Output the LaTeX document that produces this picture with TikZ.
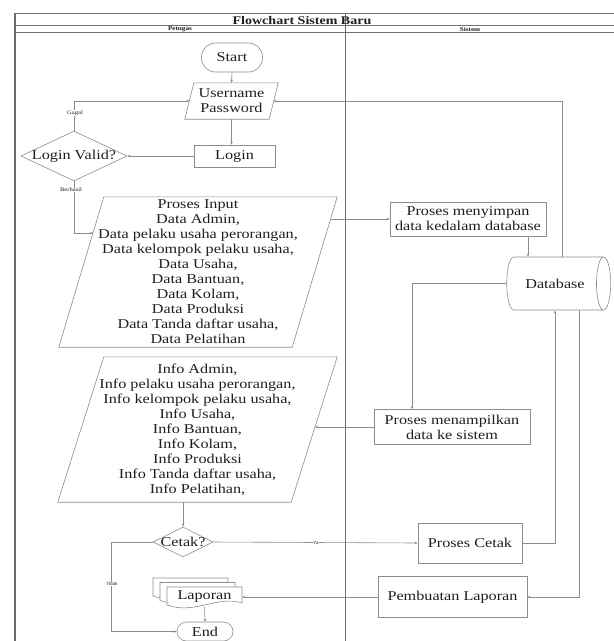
\documentclass[tikz,border=0pt]{standalone}
\usepackage{fontspec}
\setmainfont{Liberation Serif}[FakeStretch=1.2]
\newfontfamily\smallsans{Liberation Sans}
\usetikzlibrary{shapes.geometric,arrows.meta}
\definecolor{lg}{HTML}{8C8C8C}
\definecolor{fr}{HTML}{6E6E6E}
\definecolor{tx}{HTML}{1E1E1E}
\newcommand\lapdoc[2]{\filldraw[fill=white,draw=lg,line width=0.6pt] (#1,#2) -- ({#1+75},#2) -- ({#1+75},{#2+16}) .. controls ({#1+50},{#2+8}) and ({#1+28},{#2+28}) .. (#1,{#2+18}) -- cycle;}
\tikzset{
  shp/.style={draw=lg,line width=0.6pt},
  box/.style={shp,rectangle,inner sep=0pt},
  ghost/.style={rectangle,inner sep=0pt,draw=none},
  arr/.style={draw=lg,line width=0.6pt,-{Stealth[length=3.2pt,width=2.6pt]}},
  lbl/.style={fill=white,inner sep=0.5pt},
  sl/.style={font=\smallsans\fontsize{4.5}{5}\selectfont,fill=white,inner sep=0.5pt},
  frame/.style={draw=fr,line width=0.7pt}
}
\begin{document}
\begin{tikzpicture}[x=1pt,y=-1pt,font=\fontsize{13.5}{15}\selectfont,text=tx]
\useasboundingbox (0,0) rectangle (614,641);
% frame
\draw[frame] (15,13) -- (614,13);
\draw[frame] (15,25) -- (614,25);
\draw[frame] (15,32) -- (614,32);
\draw[frame,line width=1.3pt] (15,13) -- (15,641);
\draw[frame,line width=1pt] (345,13) -- (345,641);
\node[font=\bfseries\fontsize{11.7}{13}\selectfont] (title) at (302,21) {Flowchart Sistem Baru};
\node[font=\bfseries\fontsize{6}{7}\selectfont] (petugas) at (180,29) {Petugas};
\node[font=\bfseries\fontsize{6}{7}\selectfont] (sistem) at (470,29) {Sistem};

% left lane
\node[box,rounded corners=14pt,minimum width=61,minimum height=29] (start) at (232,57.5) {Start};
\node[ghost,minimum width=93,minimum height=36,align=center] (user) at (231.5,101) {Username\\Password};
\draw[shp] ([xshift=9pt]user.north west) -- (user.north east) -- ([xshift=-9pt]user.south east) -- (user.south west) -- cycle;
\coordinate (userL) at (189.5,101);
\coordinate (userR) at (273.5,101);
\node[box,minimum width=81,minimum height=22] (login) at (234.5,156) {Login};
\node[shp,diamond,inner sep=0pt,minimum width=106,minimum height=50] (valid) at (74,156) {\makebox[0pt]{Login Valid?}};

\node[ghost,minimum width=278,minimum height=150,align=center] (inp) at (198,272)
 {Proses Input\\Data Admin,\\Data pelaku usaha perorangan,\\Data kelompok pelaku usaha,\\Data Usaha,\\Data Bantuan,\\Data Kolam,\\Data Produksi\\Data Tanda daftar usaha,\\Data Pelatihan};
\draw[shp] ([xshift=45pt]inp.north west) -- (inp.north east) -- ([xshift=-45pt]inp.south east) -- (inp.south west) -- cycle;
\coordinate (inL) at (93.2,233);
\coordinate (inR) at (330.4,219);

\node[ghost,minimum width=279,minimum height=145,align=center] (out) at (197.5,429.5)
 {Info Admin,\\Info pelaku usaha perorangan,\\Info kelompok pelaku usaha,\\Info Usaha,\\Info Bantuan,\\Info Kolam,\\Info Produksi\\Info Tanda daftar usaha,\\Info Pelatihan,};
\draw[shp] ([xshift=46pt]out.north west) -- (out.north east) -- ([xshift=-46pt]out.south east) -- (out.south west) -- cycle;
\coordinate (outR) at (314.8,427);

\node[shp,diamond,inner sep=0pt,minimum width=60,minimum height=30] (cetak) at (183,542) {\makebox[0pt]{Cetak?}};

\lapdoc{153}{578}
\lapdoc{160}{582.5}
\lapdoc{167}{587}
\node[ghost,minimum width=75,minimum height=20] (lap) at (204.5,597) {Laporan};
\node[box,rounded corners=9.5pt,minimum width=56,minimum height=19] (end) at (205,631.5) {End};

% right lane
\node[box,minimum width=156,minimum height=34,align=center] (simpan) at (468,219) {Proses menyimpan\\data kedalam database};
\node[shp,cylinder,aspect=1.5,inner sep=0pt,minimum width=53,minimum height=104] (db) at (555,283.5) {Database};
\node[box,minimum width=156,minimum height=35,align=center] (tampil) at (452,427) {Proses menampilkan\\data ke sistem};
\node[box,minimum width=104,minimum height=40] (pcetak) at (470,543) {Proses Cetak};
\node[box,minimum width=149,minimum height=41] (plap) at (452.5,597) {Pembuatan Laporan};

% connectors
\draw[arr] (start.south) -- (user.north);
\draw[arr] (user.south) -- (user.south |- login.north);
\draw[arr] (login.west) -- (valid.east);
\draw[arr] (valid.north) |- (userL);
\draw[arr] (valid.south) |- (inL);
\draw[arr] (inR) -- (simpan.west);
\draw[arr] ([xshift=60pt]simpan.south) -- ([xshift=60pt]simpan.south |- db.north);
\draw[arr] ([xshift=7pt]db.north) |- (userR);
\draw[arr] (db.west) -| ([xshift=-40pt]tampil.north);
\draw[arr] (tampil.west) -- (outR);
\draw[arr] (cetak.north |- out.south) -- (cetak.north);
\draw[arr] (cetak.east) -- (pcetak.west);
\draw[arr] (pcetak.east) -| (db.south);
\draw[arr] ([xshift=24pt]db.south) |- (plap.east);
\draw[arr] (plap.west) -- (lap.east);
\draw[arr] (lap.south) -- (end.north);
\draw[arr] (cetak.west) -| ([xshift=-65pt]end.west) -- (end.west);

% labels
\node[lbl,font=\fontsize{5.5}{6}\selectfont] (gagal) at (75,113) {Gagal};
\node[lbl,font=\fontsize{5.5}{6}\selectfont] (berhasil) at (71,190) {Berhasil};
\node[sl] (ya) at (316,543) {Ya};
\node[sl] (tidak) at (112,584) {Tidak};
\end{tikzpicture}
\end{document}
